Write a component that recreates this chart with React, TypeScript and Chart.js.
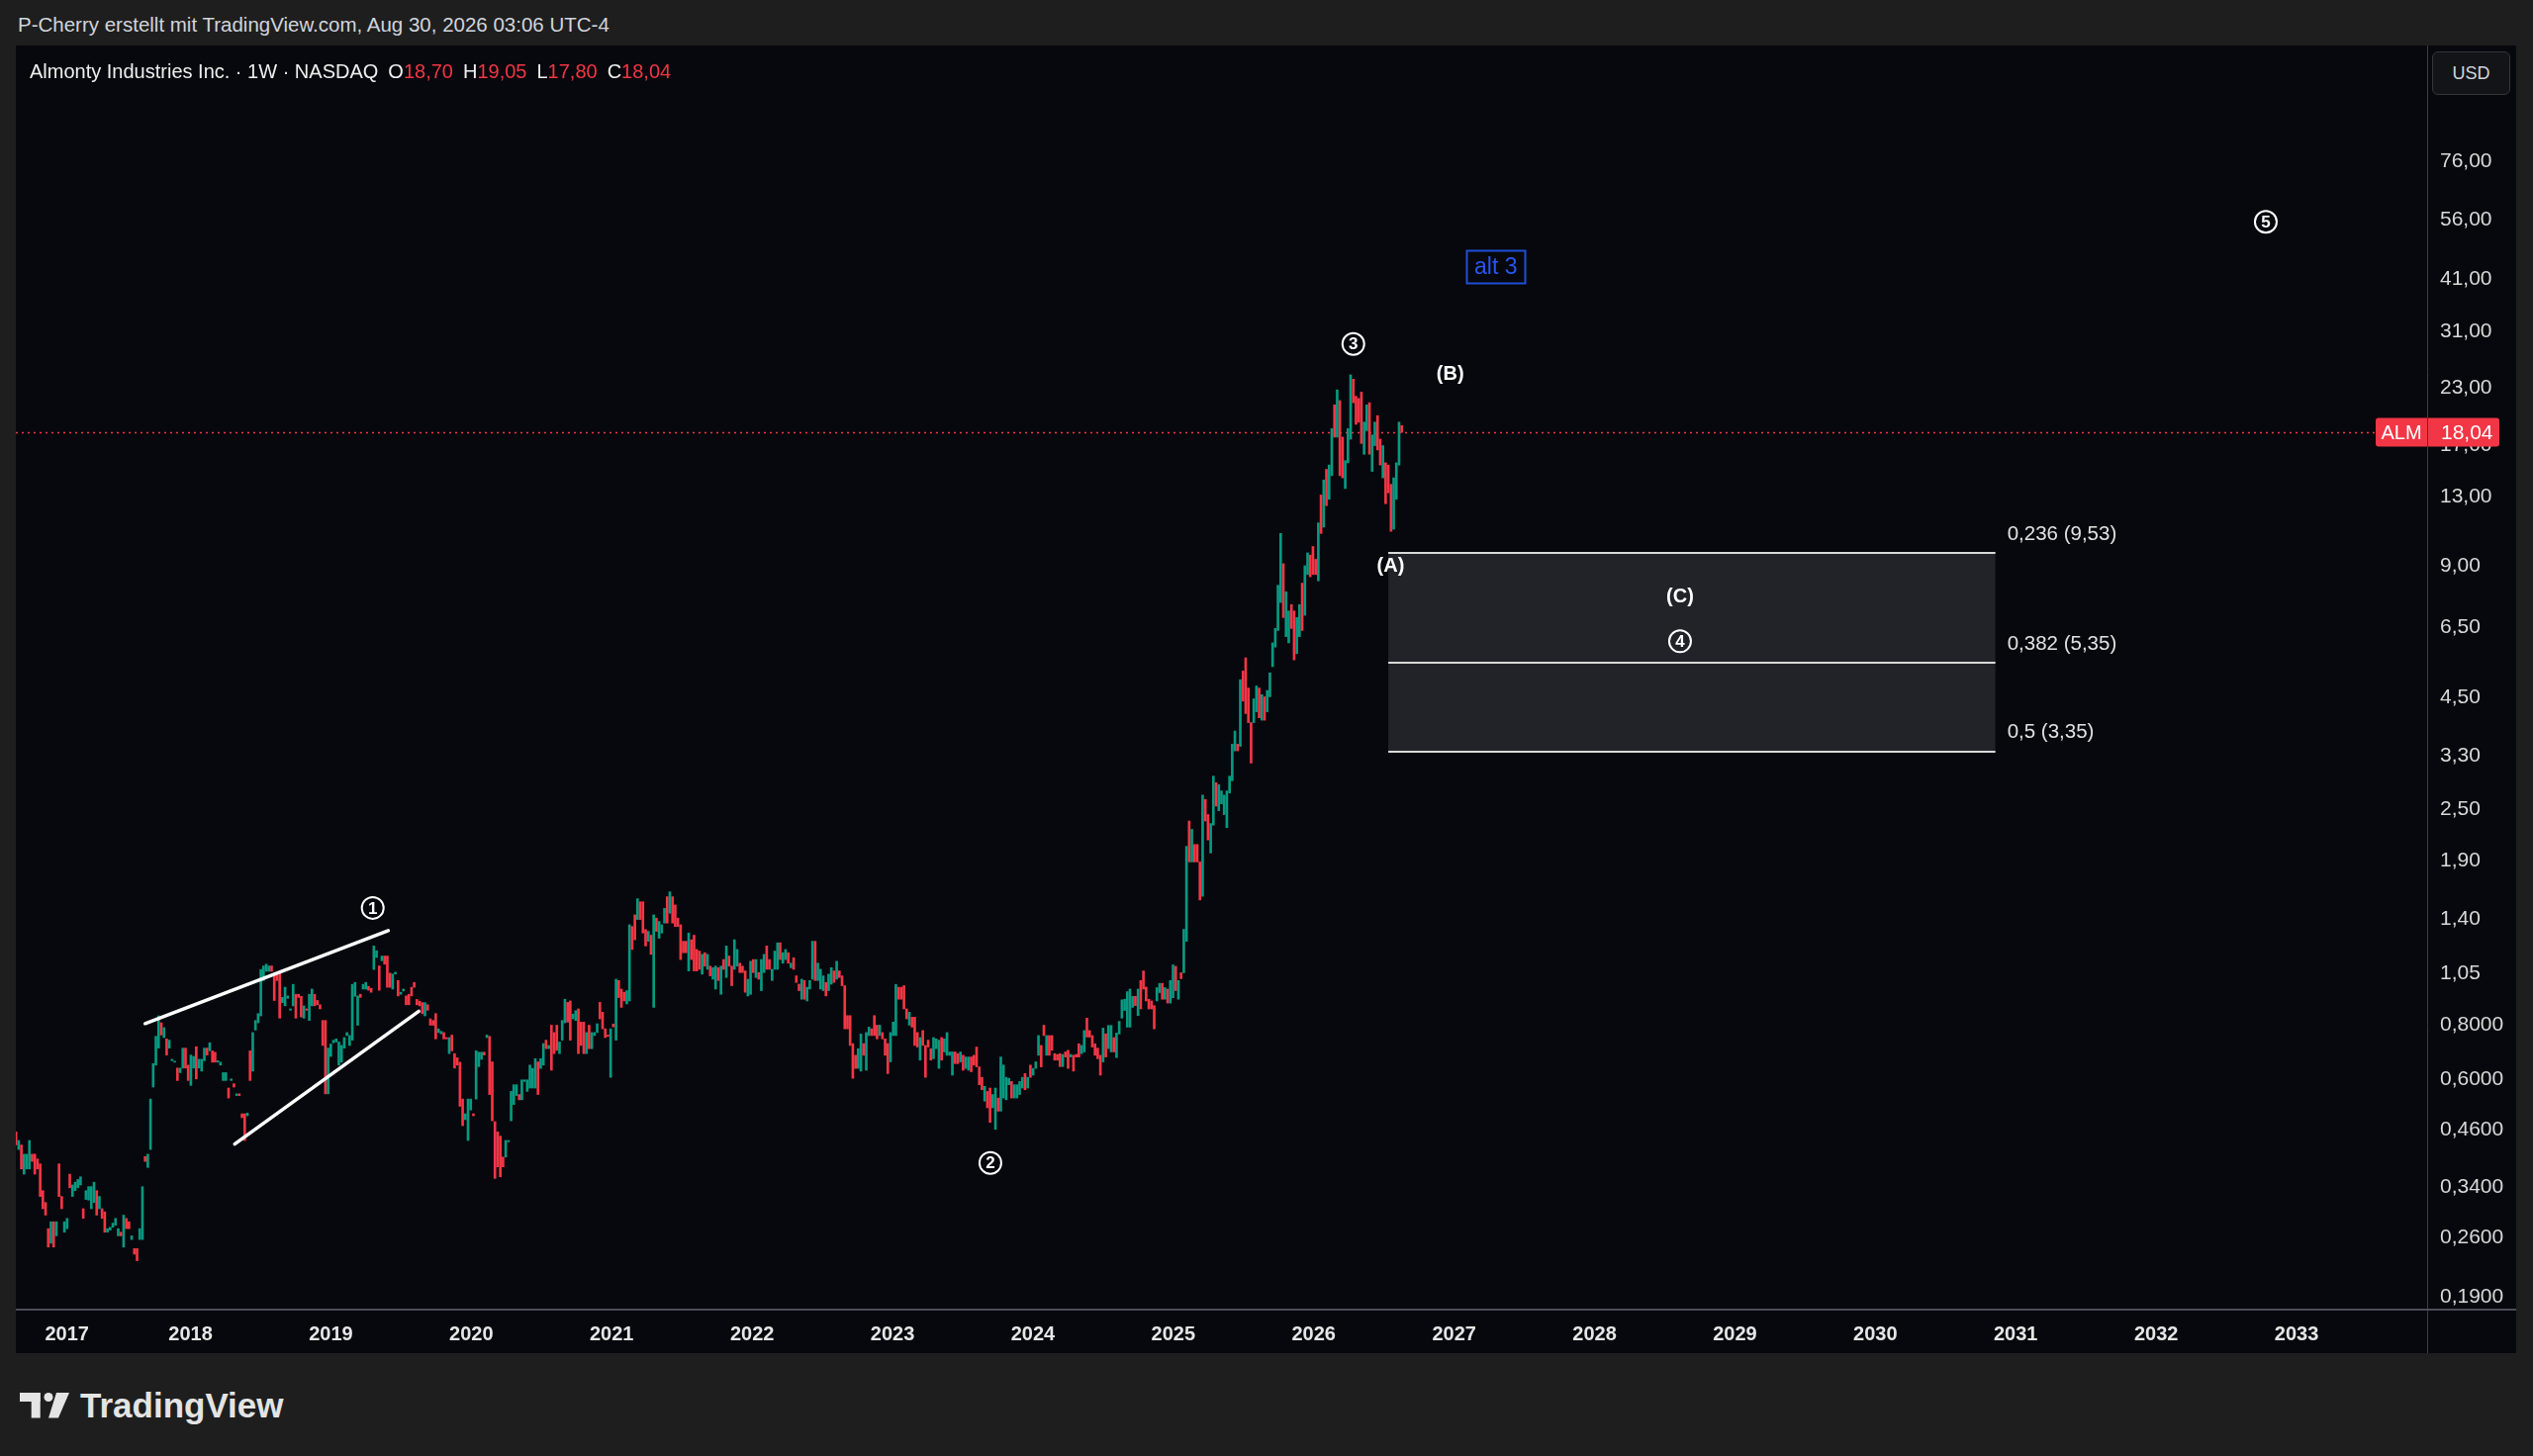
import React, { useEffect, useRef } from 'react';
import { Chart, registerables } from 'chart.js';

Chart.register(...registerables);

// ---------- DATA ----------
const FIRST_CANDLE_YEAR = 2016.757;
const WEEK_IN_YEARS = 7 / 365.25;

// weekly candles as [open, close]
const candles2016to2020: [number, number][] = [
  [.45,.42],[.41,.43],[.42,.37],[.36,.40],[.37,.40],[.37,.43],[.40,.385],[.40,.36],[.39,.37],[.38,.32],
  [.33,.30],[.31,.29],[.27,.245],[.25,.28],[.28,.245],[.26,.28],[.38,.32],[.32,.30],[.265,.28],[.27,.285],
  [.36,.335],[.32,.34],[.33,.345],[.335,.35],[.34,.355],[.30,.285],[.315,.33],[.314,.337],[.30,.337],[.31,.345],
  [.33,.29],[.30,.32],[.30,.285],[.295,.265],[.265,.27],[.268,.272],[.272,.278],[.275,.285],[.26,.27],[.265,.26],
  [.245,.29],[.285,.27],[.28,.27],[.255,.26],[.243,.236],[.243,.228],[.255,.27],[.255,.337],[.395,.385],[.373,.40],
  [.41,.535],[.57,.645],[.64,.745],[.70,.83],[.80,.75],[.74,.78],[.735,.675],[.70,.73],[.655,.66],[.65,.652],
  [.63,.59],[.615,.63],[.63,.70],[.70,.63],[.64,.59],[.575,.675],[.63,.67],[.705,.595],[.63,.66],[.62,.66],
  [.655,.70],[.70,.675],[.69,.72],[.69,.65],[.685,.65],[.65,.655],[.64,.65],[.59,.615],[.59,.615],[.567,.538],
  [.59,.595],[.58,.57],[.545,.55],[.55,.545],[.495,.485],[.495,.43],[.49,.497],[.69,.59],[.62,.76],[.77,.81],
  [.80,.84],[.83,1.06],[1.0,1.08],[1.05,1.09],[1.05,1.08],[1.08,1.05],[1.04,.90],[1.03,1.0],[1.05,.82],[.89,.915],
  [.875,.965],[.91,.922],[.855,.861],[.875,.98],[.93,.82],[.93,.915],[.92,.825],[.82,.875],[.861,.855],[.81,.93],
  [.875,.956],[.93,.875],[.90,.88],[.88,.861],[.81,.71],[.81,.55],[.55,.70],[.67,.715],[.72,.73],[.723,.735],
  [.64,.723],[.65,.71],[.70,.74],[.748,.76],[.71,.748],[.73,.98],[.92,.99],[.79,.922],[.93,.915],[.956,.98],
  [.956,.99],[.97,.95],[.96,.94],[1.06,1.20],[1.13,1.17],[1.08,.95],[1.11,1.138],[1.138,1.09],[1.138,.965],[1.04,.965],
  [.956,1.035],[1.035,1.045],[1.0,.922],[.93,.94],[.946,.956],[.922,.88],[.93,.88],[.965,.922],[.99,.965],[.905,.88],
  [.897,.875],[.89,.84],[.83,.89],[.88,.855],[.817,.79],[.81,.79],[.84,.735],[.76,.775],[.755,.765],[.76,.735],
  [.74,.735],[.68,.74],[.75,.69],[.68,.63],[.665,.64],[.65,.515],[.535,.465],[.48,.495],[.43,.535],[.505,.535],
  [.495,.49],[.535,.69],[.635,.685],[.66,.685],[.685,.675],[.74,.75],
];

const candles2020to2024: [number, number][] = [
  [.745,.548],[.651,.477],[.475,.352],[.45,.374],[.44,.355],[.394,.374],[.394,.43],[.427,.43],[.477,.557],[.52,.577],
  [.545,.577],[.548,.533],[.533,.592],[.587,.592],[.557,.592],[.567,.64],[.567,.629],[.567,.662],[.651,.548],[.629,.662],
  [.64,.717],[.73,.698],[.698,.71],[.79,.623],[.76,.68],[.79,.692],[.68,.723],[.73,.81],[.80,.906],[.891,.803],
  [.898,.73],[.817,.838],[.81,.853],[.861,.68],[.803,.71],[.803,.68],[.68,.76],[.79,.698],[.698,.76],[.748,.76],
  [.76,.796],[.891,.817],[.846,.775],[.775,.74],[.75,.745],[.60,.775],[.795,.783],[.73,1.007],[1.0,.914],[.956,.868],
  [.94,.898],[.884,.948],[.898,1.342],[1.33,1.178],[1.414,1.24],[1.38,1.54],[1.515,1.38],[1.515,1.285],[1.308,1.20],[1.23,1.296],
  [1.27,1.148],[.868,1.414],[1.39,1.296],[1.25,1.366],[1.285,1.342],[1.354,1.463],[1.556,1.354],[1.426,1.597],[1.556,1.354],[1.49,1.33],
  [1.39,1.33],[1.342,1.117],[1.23,1.158],[1.23,1.158],[1.052,1.285],[1.24,1.117],[1.27,1.052],[1.178,1.052],[1.168,1.061],[1.034,1.148],
  [1.158,1.079],[1.061,1.148],[1.079,1.025],[1.007,1.07],[.956,1.079],[1.07,1.0],[.93,1.079],[1.117,1.061],[1.016,1.20],[1.138,1.079],
  [1.079,.973],[1.061,1.24],[1.079,1.178],[1.096,1.043],[1.079,1.043],[1.052,.94],[.922,1.007],[.93,1.107],[1.117,1.043],[1.016,1.117],
  [1.043,1.007],[.948,1.117],[1.043,1.148],[1.20,1.061],[1.117,1.061],[1.0,1.061],[1.061,1.168],[1.061,1.22],[1.22,1.117],[1.096,1.158],
  [1.117,1.178],[1.158,1.096],[1.07,1.096],[1.128,1.061],[1.025,.99],[.981,.948],[.906,1.007],[1.0,.906],[.898,.965],[.956,1.0],
  [1.007,1.23],[1.23,1.0],[1.0,1.096],[.956,1.061],[.948,1.025],[.99,.922],[.948,1.034],[.981,1.07],[1.052,.99],[1.007,1.107],
  [1.052,1.016],[1.025,.973],[.973,.775],[.831,.775],[.831,.71],[.717,.597],[.674,.629],[.629,.698],[.62,.754],[.717,.674],
  [.623,.76],[.748,.782],[.775,.748],[.831,.748],[.79,.735],[.748,.79],[.76,.735],[.735,.674],[.717,.612],[.651,.76],
  [.748,.803],[.748,.98],[.965,.906],[.965,.906],[.973,.861],[.861,.817],[.79,.846],[.824,.782],[.824,.71],[.76,.704],
  [.657,.74],[.768,.71],[.71,.60],[.73,.704],[.698,.657],[.662,.74],[.698,.735],[.629,.73],[.74,.657],[.686,.735],
  [.674,.76],[.674,.686],[.607,.686],[.686,.645],[.68,.645],[.651,.686],[.674,.623],[.629,.668],[.623,.668],[.668,.618],
  [.674,.64],[.704,.634],[.634,.577],[.60,.562],[.529,.572],[.557,.511],[.567,.473],[.511,.548],[.456,.567],[.538,.502],
  [.502,.668],[.538,.64],[.533,.60],[.577,.597],[.587,.538],[.538,.577],[.538,.577],[.548,.587],[.567,.60],[.612,.562],
  [.567,.60],[.64,.60],[.607,.629],[.629,.651],[.674,.748],[.71,.634],[.79,.748],[.674,.748],[.748,.674],
];

const candles2024to2025: [number, number][] = [
  [.748,.692],[.68,.657],[.677,.657],[.68,.635],[.635,.677],[.686,.668],[.692,.629],[.668,.677],[.674,.62],[.677,.668],
  [.716,.668],[.68,.71],[.686,.768],[.82,.742],[.768,.742],[.748,.704],[.716,.674],[.70,.662],[.674,.607],[.651,.778],
  [.755,.668],[.698,.789],[.686,.789],[.74,.686],[.666,.758],[.754,.806],[.82,.903],[.854,.906],[.782,.943],[.782,.956],
  [.868,.92],[.92,.876],[.831,.956],[1.0,.861],[1.052,.956],[.966,.898],[.906,.861],[.898,.861],[.876,.775],[.898,.963],
  [.938,.985],[.985,.906],[.906,.963],[.956,.888],[.888,1.0],[.913,1.086],[1.078,.948],[.906,1.0],[1.042,1.01],[1.042,1.31],
];

const candles2025to2026: [number, number][] = [
  [1.23,2.03],[2.32,1.87],[1.87,2.22],[2.05,1.87],[2.05,1.87],[1.87,1.53],[1.56,2.66],[2.60,2.32],[2.40,2.10],[1.96,2.29],
  [2.27,2.94],[2.84,2.51],[2.45,2.81],[2.54,2.72],[2.40,2.66],[2.24,2.72],[2.69,2.94],[2.87,3.48],[3.36,3.73],[3.48,3.36],
  [3.44,4.89],[5.12,4.37],[5.49,4.09],[4.68,3.90],[3.90,3.15],[3.90,4.42],[4.13,4.73],[4.68,4.0],[3.95,4.52],[4.47,3.95],
  [4.13,4.62],[4.47,5.07],[5.24,5.94],[5.81,6.41],[6.34,8.05],[7.35,10.58],[9.02,6.79],[6.14,7.78],[5.94,7.03],[7.27,6.41],
  [7.03,5.43],[5.61,6.79],[6.14,7.27],[8.14,6.34],[6.87,8.92],[8.52,9.55],[9.44,8.42],[9.88,8.52],[9.23,8.52],[8.24,11.19],
  [12.96,10.58],[10.94,14.03],[14.84,12.25],[12.67,15.18],[14.35,18.40],[20.85,17.59],[17.59,22.57],[21.33,14.35],[17.59,14.19],[13.41,15.54],
  [15.36,18.40],[17.40,24.43],[23.88,21.09],[21.82,18.82],[21.57,19.04],[22.31,17.01],[16.07,19.04],[18.2,20.85],[21.09,16.07],[14.68,17.79],
  [16.82,19.04],[19.70,16.44],[17.40,15.18],[14.19,16.82],[15.36,12.38],[15.18,13.11],[13.71,10.70],[10.82,14.19],[12.67,15.36],[15.18,19.04],
  [18.70,18.04],
];

const lastBarOpen = 18.70;
const lastBarHigh = 19.05;
const lastBarLow = 17.80;
const lastBarClose = 18.04;

const yTickValues = [76, 56, 41, 31, 23, 17, 13, 9, 6.5, 4.5, 3.3, 2.5, 1.9, 1.4, 1.05, 0.8, 0.6, 0.46, 0.34, 0.26, 0.19];
// year label positions on the time axis (the first one sits on the first full bar of 2017)
const xTickYears = [2017.12, 2018, 2019, 2020, 2021, 2022, 2023, 2024, 2025, 2026, 2027, 2028, 2029, 2030, 2031, 2032, 2033];

// drawings in (year, price) coordinates
const wedgeUpper = [{ x: 2017.677, y: 0.797 }, { x: 2019.408, y: 1.301 }];
const wedgeLower = [{ x: 2018.315, y: 0.422 }, { x: 2019.626, y: 0.85 }];
const waveNumbers = ['1', '2', '3', '4', '5'];
const waveNumberYears = [2019.298, 2023.697, 2026.282, 2028.609, 2032.781];
const waveNumberPrices = [1.467, 0.382, 28.76, 5.99, 54.8];
const waveLetters = ['(A)', '(B)', '(C)'];
const waveLetterYears = [2026.548, 2026.972, 2028.609];
const waveLetterPrices = [8.88, 24.46, 7.55];
const altLabel = 'alt 3';
const altYear = 2027.297;
const altPrice = 43.2;
const fibRatios = ['0,236', '0,382', '0,5'];
const fibPrices = [9.53, 5.35, 3.35];
const fibFromYear = 2026.531;
const fibToYear = 2030.855;

const X_MIN = 2016.756;
const X_MAX = 2033.93;
const Y_MIN = 0.17707;
const Y_MAX = 138.9;

// ---------- HELPERS ----------
const UP = '#089981';
const DOWN = '#f23645';
const FONT = '"Liberation Sans", Arial, sans-serif';

function de(v: number, d: number) {
  return v.toFixed(d).replace('.', ',');
}
function priceLabel(v: number) {
  return v >= 1 ? de(v, 2) : de(v, 4);
}

const overlayPlugin = {
  id: 'tvOverlay',
  beforeDatasetsDraw(chart: any) {
    const { ctx, chartArea: a } = chart;
    const xs = chart.scales.x;
    const ys = chart.scales.y;
    ctx.save();
    ctx.beginPath();
    ctx.rect(a.left, a.top, a.right - a.left, a.bottom - a.top);
    ctx.clip();
    const x0 = xs.getPixelForValue(fibFromYear);
    const x1 = xs.getPixelForValue(fibToYear);
    const yt = ys.getPixelForValue(Math.max(...fibPrices));
    const yb = ys.getPixelForValue(Math.min(...fibPrices));
    ctx.fillStyle = '#222328';
    ctx.fillRect(x0, yt, x1 - x0, yb - yt);
    ctx.strokeStyle = '#d9d9d9';
    ctx.lineWidth = 2;
    fibPrices.forEach((p) => {
      const py = Math.round(ys.getPixelForValue(p));
      ctx.beginPath();
      ctx.moveTo(x0, py);
      ctx.lineTo(x1, py);
      ctx.stroke();
    });
    // last price dotted line
    const lp = Math.round(ys.getPixelForValue(lastBarClose)) + 0.5;
    ctx.setLineDash([2, 4]);
    ctx.strokeStyle = DOWN;
    ctx.lineWidth = 1.5;
    ctx.beginPath();
    ctx.moveTo(a.left, lp);
    ctx.lineTo(a.right, lp);
    ctx.stroke();
    ctx.restore();
  },
  afterDatasetsDraw(chart: any) {
    const { ctx, chartArea: a } = chart;
    const xs = chart.scales.x;
    const ys = chart.scales.y;
    ctx.save();
    ctx.beginPath();
    ctx.rect(a.left, a.top, a.right - a.left, a.bottom - a.top);
    ctx.clip();
    ctx.textAlign = 'center';
    ctx.textBaseline = 'middle';
    // circled wave numbers
    waveNumbers.forEach((t, i) => {
      const px = xs.getPixelForValue(waveNumberYears[i]);
      const py = ys.getPixelForValue(waveNumberPrices[i]);
      ctx.beginPath();
      ctx.arc(px, py, 11, 0, Math.PI * 2);
      ctx.strokeStyle = '#ffffff';
      ctx.lineWidth = 2;
      ctx.stroke();
      ctx.fillStyle = '#ffffff';
      ctx.font = `bold 17px ${FONT}`;
      ctx.fillText(t, px, py + 1);
    });
    // letters
    ctx.font = `bold 20px ${FONT}`;
    ctx.fillStyle = '#ffffff';
    waveLetters.forEach((t, i) => {
      ctx.fillText(t, xs.getPixelForValue(waveLetterYears[i]), ys.getPixelForValue(waveLetterPrices[i]));
    });
    // alt 3 box
    const ax = xs.getPixelForValue(altYear);
    const ay = ys.getPixelForValue(altPrice);
    ctx.strokeStyle = '#1f4fd6';
    ctx.lineWidth = 2;
    ctx.strokeRect(Math.round(ax - 30) + 0.5, Math.round(ay - 16.5) + 0.5, 59, 33);
    ctx.fillStyle = '#2457f0';
    ctx.font = `23px ${FONT}`;
    ctx.fillText(altLabel, ax, ay + 1);
    // fib labels
    ctx.textAlign = 'left';
    ctx.font = `20.5px ${FONT}`;
    ctx.fillStyle = '#e0e0e0';
    const lx = xs.getPixelForValue(fibToYear) + 12;
    fibPrices.forEach((p, i) => {
      ctx.fillText(`${fibRatios[i]} (${de(p, 2)})`, lx, ys.getPixelForValue(p) - 19);
    });
    ctx.restore();
  },
  afterDraw(chart: any) {
    const { ctx, chartArea: a, width, height } = chart;
    const ys = chart.scales.y;
    ctx.save();
    const py = ys.getPixelForValue(lastBarClose);
    const left = a.right - 52;
    const right = a.right + 73;
    ctx.fillStyle = DOWN;
    ctx.beginPath();
    ctx.roundRect(left, py - 14.5, right - left, 29, 3);
    ctx.fill();
    ctx.fillStyle = '#ffffff';
    ctx.textBaseline = 'middle';
    ctx.textAlign = 'center';
    ctx.font = `20px ${FONT}`;
    ctx.fillText('ALM', a.right - 26, py + 1);
    ctx.textAlign = 'left';
    ctx.font = `21px ${FONT}`;
    ctx.fillText(de(lastBarClose, 2), a.right + 14, py + 1);
    // separators
    ctx.strokeStyle = '#3b3e46';
    ctx.lineWidth = 1;
    ctx.beginPath();
    ctx.moveTo(Math.round(a.right) + 0.5, 0);
    ctx.lineTo(Math.round(a.right) + 0.5, height);
    ctx.stroke();
    ctx.strokeStyle = '#4b4e57';
    ctx.lineWidth = 2;
    ctx.beginPath();
    ctx.moveTo(0, Math.round(a.bottom) + 1);
    ctx.lineTo(width, Math.round(a.bottom) + 1);
    ctx.stroke();
    ctx.restore();
  },
};

export default function App() {
  const ref = useRef<HTMLCanvasElement | null>(null);

  useEffect(() => {
    document.body.style.margin = '0';
    document.body.style.overflow = 'hidden';
    const all = [...candles2016to2020, ...candles2020to2024, ...candles2024to2025, ...candles2025to2026];
    const candleData = all.map(([o, c], i) => ({ x: FIRST_CANDLE_YEAR + i * WEEK_IN_YEARS, y: [o, c] }));
    const colors = all.map(([o, c]) => (c >= o ? UP : DOWN));

    const chart = new Chart(ref.current as HTMLCanvasElement, {
      type: 'bar',
      data: {
        datasets: [
          {
            type: 'bar',
            data: candleData as any,
            backgroundColor: colors,
            borderWidth: 0,
            barThickness: 2,
            minBarLength: 1,
            order: 2,
          } as any,
          {
            type: 'line',
            data: wedgeUpper,
            borderColor: '#ffffff',
            borderWidth: 3.5,
            pointRadius: 0,
            borderCapStyle: 'round',
            order: 1,
          } as any,
          {
            type: 'line',
            data: wedgeLower,
            borderColor: '#ffffff',
            borderWidth: 3.5,
            pointRadius: 0,
            borderCapStyle: 'round',
            order: 1,
          } as any,
        ],
      },
      options: {
        animation: false,
        responsive: false,
        maintainAspectRatio: false,
        events: [],
        layout: { padding: 0 },
        plugins: { legend: { display: false }, tooltip: { enabled: false } },
        scales: {
          x: {
            type: 'linear',
            min: X_MIN,
            max: X_MAX,
            bounds: 'data',
            offset: false,
            grid: { display: false, drawTicks: false },
            border: { display: false },
            ticks: {
              autoSkip: false,
              maxRotation: 0,
              padding: 14,
              color: '#e6e6e6',
              font: { family: FONT, size: 20, weight: 'bold' },
              callback: (v: any) => String(Math.round(Number(v))),
            },
            afterBuildTicks: (s: any) => {
              s.ticks = xTickYears.map((v) => ({ value: v }));
            },
            afterFit: (s: any) => {
              s.height = 45;
              s.paddingLeft = 0;
              s.paddingRight = 0;
            },
          },
          y: {
            type: 'logarithmic',
            position: 'right',
            min: Y_MIN,
            max: Y_MAX,
            beginAtZero: false,
            grid: { display: false, drawTicks: false },
            border: { display: false },
            ticks: {
              autoSkip: false,
              padding: 13,
              labelOffset: 2,
              color: '#d8d8d8',
              font: { family: FONT, size: 21 },
              callback: (v: any) => priceLabel(Number(v)),
            },
            afterBuildTicks: (s: any) => {
              s.ticks = yTickValues.map((v) => ({ value: v }));
            },
            afterFit: (s: any) => {
              s.width = 90;
              s.paddingTop = 0;
              s.paddingBottom = 0;
            },
          },
        },
      } as any,
      plugins: [overlayPlugin],
    });
    return () => chart.destroy();
  }, []);

  const ohlc: [string, number][] = [
    ['O', lastBarOpen],
    ['H', lastBarHigh],
    ['L', lastBarLow],
    ['C', lastBarClose],
  ];

  return (
    <div
      style={{
        position: 'absolute',
        left: 0,
        top: 0,
        width: 2560,
        height: 1472,
        background: '#1e1e1e',
        overflow: 'hidden',
        fontFamily: FONT,
      }}
    >
      <div style={{ position: 'absolute', left: 18, top: 12, fontSize: 20.5, lineHeight: '26px', color: '#d1d4dc', whiteSpace: 'nowrap' }}>
        P-Cherry erstellt mit TradingView.com, Aug 30, 2026 03:06 UTC-4
      </div>
      <div style={{ position: 'absolute', left: 16, top: 46, width: 2527, height: 1322, background: '#07080d' }}>
        <canvas ref={ref} width={2527} height={1322} style={{ display: 'block', width: 2527, height: 1322 }} />
      </div>
      <div
        style={{
          position: 'absolute',
          left: 30,
          top: 59,
          fontSize: 20,
          lineHeight: '26px',
          color: '#eeeeee',
          whiteSpace: 'nowrap',
          display: 'flex',
        }}
      >
        <span>Almonty Industries Inc. · 1W · NASDAQ</span>
        {ohlc.map(([k, v]) => (
          <span key={k} style={{ marginLeft: 10 }}>
            {k}
            <span style={{ color: DOWN }}>{de(v, 2)}</span>
          </span>
        ))}
      </div>
      <div
        style={{
          position: 'absolute',
          left: 2458,
          top: 52,
          width: 77,
          height: 42,
          border: '1px solid #34363c',
          borderRadius: 6,
          background: '#131418',
          color: '#d1d4dc',
          fontSize: 18,
          lineHeight: '42px',
          textAlign: 'center',
        }}
      >
        USD
      </div>
      <svg style={{ position: 'absolute', left: 20, top: 1408 }} width={52} height={26} viewBox="0 0 52 26">
        <rect x={0} y={0} width={20.7} height={9} fill="#e4e4e4" />
        <rect x={11.7} y={0} width={9} height={25.5} fill="#e4e4e4" />
        <circle cx={29} cy={4.5} r={4.5} fill="#e4e4e4" />
        <polygon points="37,0 50,0 39,25.5 29,25.5" fill="#e4e4e4" />
      </svg>
      <div
        style={{
          position: 'absolute',
          left: 81,
          top: 1401,
          fontSize: 35,
          lineHeight: '40px',
          fontWeight: 'bold',
          color: '#e4e4e4',
          whiteSpace: 'nowrap',
        }}
      >
        TradingView
      </div>
    </div>
  );
}
